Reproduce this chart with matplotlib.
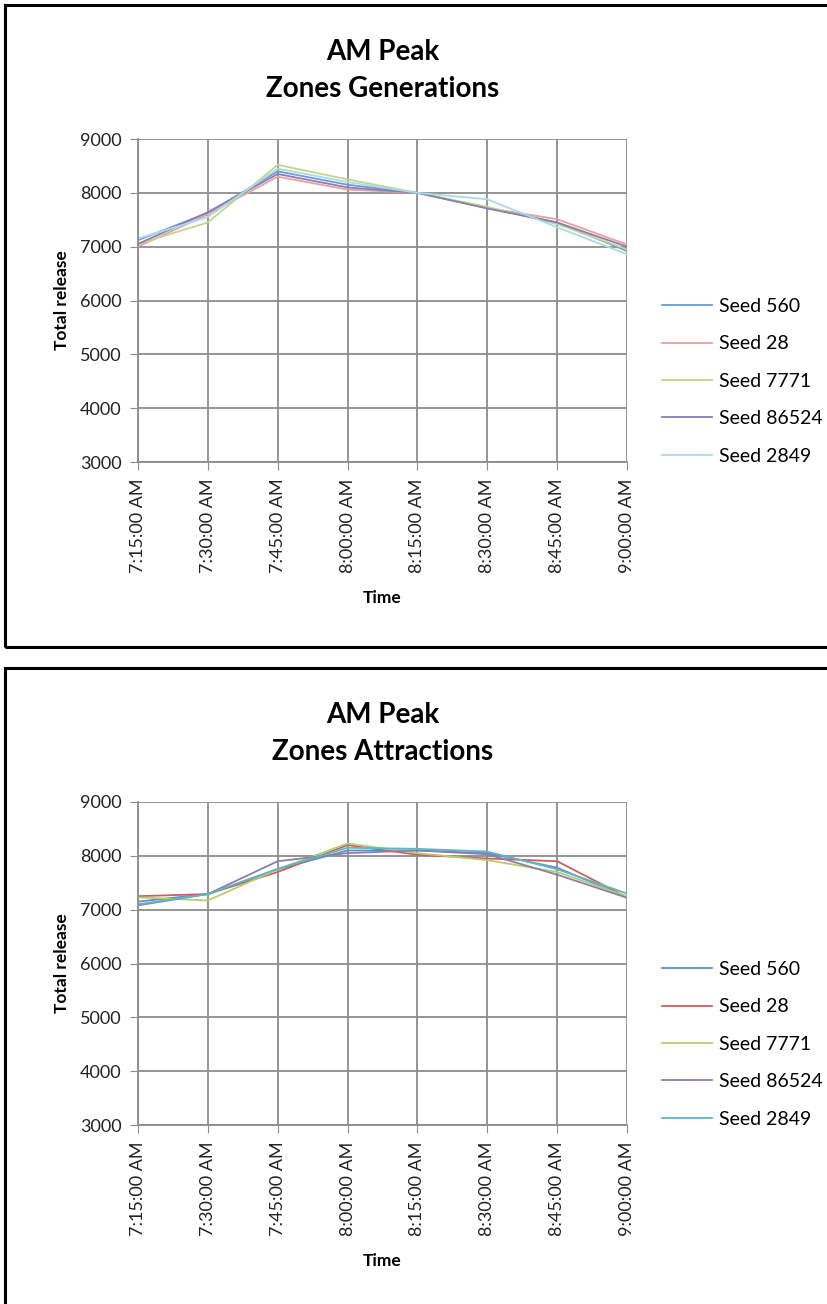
import numpy as np
import matplotlib as mpl
mpl.use('Agg')
import matplotlib.pyplot as plt
from matplotlib.patches import Rectangle

plt.rcParams['font.family'] = ['Lato', 'DejaVu Sans']

times = ['7:15:00 AM', '7:30:00 AM', '7:45:00 AM', '8:00:00 AM',
         '8:15:00 AM', '8:30:00 AM', '8:45:00 AM', '9:00:00 AM']
seeds = ['Seed 560', 'Seed 28', 'Seed 7771', 'Seed 86524', 'Seed 2849']

# AM peak - zones generations
gen_560 = [7120, 7630, 8400, 8150, 8000, 7720, 7450, 6920]
gen_28 = [7000, 7600, 8300, 8060, 8000, 7720, 7510, 7040]
gen_7771 = [7050, 7450, 8520, 8250, 8000, 7740, 7420, 6950]
gen_86524 = [7050, 7640, 8350, 8100, 8000, 7710, 7450, 7000]
gen_2849 = [7150, 7550, 8450, 8200, 8000, 7880, 7360, 6860]

# AM peak - zones attractions
att_560 = [7150, 7290, 7750, 8100, 8100, 8050, 7780, 7230]
att_28 = [7250, 7290, 7700, 8200, 8020, 7950, 7900, 7230]
att_7771 = [7230, 7170, 7750, 8230, 8050, 7920, 7700, 7250]
att_86524 = [7080, 7290, 7900, 8050, 8100, 8030, 7650, 7220]
att_2849 = [7100, 7290, 7760, 8150, 8130, 8080, 7750, 7300]

cols_gen = ['#6f9bd3', '#e8a0a0', '#c2d58a', '#8a7db3', '#a6dce8']
cols_att = ['#5f8fcc', '#c8605d', '#b5cc70', '#8c7fa8', '#5fb6c9']

fig = plt.figure(figsize=(8.28, 13.04), dpi=100)

# panel borders
for y0, h in [(1 - 647 / 1304, 642 / 1304), (-0.02, 1 - 668 / 1304 + 0.02)]:
    fig.patches.append(Rectangle((5 / 828, y0), 1.0, h, transform=fig.transFigure,
                                 fill=False, edgecolor='black', linewidth=2.2))

def panel(bottom, title, series, cols):
    ax = fig.add_axes([138 / 828, bottom, 489 / 828, 323 / 1304])
    x = np.arange(len(times))
    for vals, c, lab in zip(series, cols, seeds):
        ax.plot(x, vals, color=c, linewidth=1.3, label=lab)
    ax.set_ylim(3000, 9000)
    ax.set_yticks(range(3000, 9001, 1000))
    ax.set_xlim(0, len(times) - 1)
    ax.set_xticks(x)
    ax.set_xticklabels(times, rotation=90, fontsize=13, color='#222222')
    ax.tick_params(axis='y', labelsize=13, labelcolor='#222222', length=6,
                   color='#8c8c8c', pad=6)
    ax.tick_params(axis='x', length=6, color='#8c8c8c', pad=6)
    ax.grid(True, color='#8c8c8c', linewidth=1.3)
    ax.set_axisbelow(True)
    for s in ['top', 'right']:
        ax.spines[s].set_visible(False)
    for s in ['left', 'bottom']:
        ax.spines[s].set_color('#8c8c8c')
        ax.spines[s].set_linewidth(1.3)
    ax.set_ylabel('Total release', fontsize=12.5, fontweight='bold', labelpad=7)
    ax.set_xlabel('Time', fontsize=12.5, fontweight='bold', labelpad=12)
    ax.set_title(title, fontsize=20, fontweight='bold', pad=30, linespacing=1.55)
    ax.legend(loc='center left', bbox_to_anchor=(1.055, 0.25), frameon=False,
              fontsize=14, handlelength=2.6, handletextpad=0.35, labelspacing=1.05,
              borderaxespad=0)
    return ax

panel(1 - 462 / 1304, 'AM Peak\nZones Generations',
      [gen_560, gen_28, gen_7771, gen_86524, gen_2849], cols_gen)
panel(1 - 1125 / 1304, 'AM Peak\nZones Attractions',
      [att_560, att_28, att_7771, att_86524, att_2849], cols_att)

fig.savefig('out.png', dpi=100)
